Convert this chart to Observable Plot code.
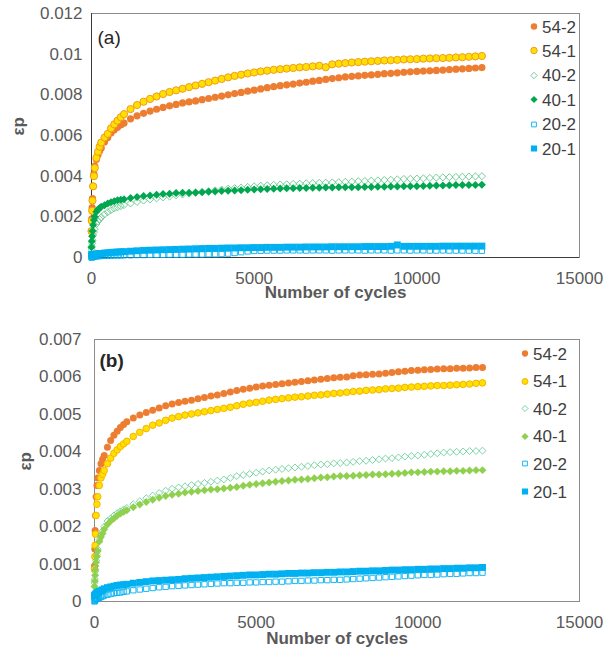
<!DOCTYPE html>
<html><head><meta charset="utf-8">
<script src="https://cdn.jsdelivr.net/npm/d3@7"></script>
<script src="https://cdn.jsdelivr.net/npm/@observablehq/plot@0.6"></script>
<style>
body{margin:0;background:#fff;font-family:"Liberation Sans",Arial,sans-serif;}
.panel{position:relative;width:605px;overflow:hidden;}
.panel > svg{display:block;}
.legend{position:absolute;left:0;top:0;font-size:17px;color:#404040;}
.legend .item{position:absolute;display:flex;align-items:center;white-space:nowrap;transform:translateY(-50%);line-height:1;}
.legend .item svg{margin-right:2px;}
</style></head><body>
<div id="pa" class="panel" style="height:310px"></div>
<div id="pb" class="panel" style="height:347px"></div>
<script>
// ---------- data ----------
const cycles = [0,10,20,30,50,75,100,150,200,250,300,400,500,600,700,800,900,1000,
  1200,1400,1600,1800,2000, 2200,2400,2600,2800,3000, 3200,3400,3600,3800,4000, 4200,4400,4600,4800,5000, 5200,5400,5600,5800,6000,
  6200,6400,6600,6800,7000, 7200,7400,7600,7800,8000, 8200,8400,8600,8800,9000, 9200,9400,9600,9800,10000, 10200,10400,10600,10800,11000, 11200,11400,11600,11800,12000];
const seriesNames = ["54-2","54-1","40-2","40-1","20-2","20-1"];

// panel (a)
const a54_2 = [0.0013,0.0019,0.00245,0.0029,0.0035,0.0041,0.0045,0.00482,0.00505,0.00524,0.00538,0.00568,0.0059,0.00612,0.00628,0.0064,0.00652,0.00661,
  0.00682,0.00697,0.00709,0.0072,0.00729, 0.00738,0.00746,0.00753,0.0076,0.00765, 0.0077,0.00776,0.00782,0.00788,0.00794, 0.008,0.00806,0.00812,0.00818,0.00823, 0.00829,0.00835,0.0084,0.00845,0.00849,
  0.00853,0.00858,0.00862,0.00867,0.00871, 0.00876,0.0088,0.00884,0.00888,0.00891, 0.00893,0.00896,0.00898,0.00901,0.00904, 0.00906,0.00908,0.00911,0.00913,0.00915, 0.00917,0.00918,0.0092,0.00922,0.00924, 0.00926,0.00928,0.0093,0.00932,0.00934];
const a54_1 = [0.0013,0.0018,0.0023,0.0028,0.0035,0.004,0.0044,0.0049,0.0052,0.00545,0.00565,0.0059,0.00608,0.00635,0.00655,0.00673,0.0069,0.00705,
  0.0073,0.0075,0.00766,0.0078,0.00792, 0.00804,0.00814,0.00822,0.0083,0.00838, 0.00846,0.00854,0.00862,0.0087,0.00878, 0.00886,0.00893,0.00899,0.00905,0.0091, 0.00915,0.00919,0.00923,0.00926,0.00929,
  0.00932,0.00935,0.00937,0.0094,0.00943, 0.00936,0.0095,0.00953,0.00956,0.00959, 0.00961,0.00963,0.00965,0.00967,0.00969, 0.0097,0.00972,0.00974,0.00975,0.00976, 0.00978,0.00979,0.0098,0.00981,0.00982, 0.00984,0.00985,0.00987,0.00989,0.00991];
const a40_2 = [0.0004,0.00055,0.0007,0.00085,0.0011,0.00125,0.0014,0.00165,0.00178,0.00188,0.00198,0.00212,0.00223,0.00233,0.00241,0.00247,0.00253,0.00258,
  0.00266,0.00273,0.0028,0.00286,0.00291, 0.00296,0.003,0.00306,0.0031,0.00314, 0.00318,0.00322,0.00326,0.0033,0.00334, 0.00338,0.00341,0.00344,0.00347,0.0035, 0.00353,0.00355,0.00357,0.00359,0.0036,
  0.00362,0.00363,0.00365,0.00366,0.00367, 0.00368,0.00369,0.0037,0.00372,0.00373, 0.00375,0.00376,0.00378,0.00379,0.00381, 0.00382,0.00384,0.00386,0.00387,0.00388, 0.00389,0.00391,0.00393,0.00394,0.00395, 0.00396,0.00397,0.00398,0.00399,0.004];
const a40_1 = [0.0005,0.0008,0.00105,0.0013,0.0016,0.00185,0.002,0.00225,0.00236,0.00244,0.0025,0.00257,0.00265,0.00272,0.00277,0.00281,0.00284,0.00287,
  0.00293,0.00297,0.00302,0.00305,0.00309, 0.00312,0.00314,0.00317,0.00318,0.00319, 0.0032,0.00321,0.00323,0.00325,0.00327, 0.00328,0.00329,0.00331,0.00333,0.00334, 0.00336,0.00337,0.00338,0.00339,0.0034,
  0.00341,0.00342,0.00342,0.00343,0.00343, 0.00344,0.00344,0.00345,0.00345,0.00346, 0.00346,0.00347,0.00347,0.00348,0.00348, 0.00349,0.00349,0.0035,0.00351,0.00351, 0.00352,0.00353,0.00354,0.00354,0.00355, 0.00356,0.00356,0.00357,0.00357,0.00358];
const a20_2 = [0,0.00001,0.00002,0.00003,0.00004,0.00005,0.00005,0.00006,0.00007,0.00007,0.00008,0.00008,0.00009,0.00009,0.0001,0.0001,0.0001,0.00011,
  0.00011,0.00012,0.00012,0.00013,0.00013, 0.00013,0.00014,0.00014,0.00014,0.00015, 0.00015,0.00015,0.00016,0.00016,0.00017, 0.00019,0.00022,0.00026,0.0003,0.00032, 0.00033,0.00034,0.00034,0.00034,0.00035,
  0.00035,0.00035,0.00034,0.00035,0.00035, 0.00035,0.00034,0.00035,0.00035,0.00035, 0.00035,0.00034,0.00035,0.00035,0.00035, 0.00034,0.00035,0.00035,0.00034,0.00035, 0.00035,0.00034,0.00034,0.00035,0.00034, 0.00034,0.00034,0.00034,0.00033,0.00033];
const a20_1 = [0.00013,0.00013,0.00014,0.00014,0.00015,0.00015,0.00016,0.00017,0.00018,0.00019,0.0002,0.00022,0.00023,0.00025,0.00026,0.00027,0.00028,0.00029,
  0.00031,0.00033,0.00035,0.00036,0.00037, 0.00038,0.00039,0.0004,0.00041,0.00042, 0.00043,0.00044,0.00045,0.00045,0.00046, 0.00047,0.00047,0.00048,0.00048,0.00049, 0.00049,0.0005,0.0005,0.0005,0.00051,
  0.00051,0.00051,0.00052,0.00052,0.00052, 0.00052,0.00053,0.00053,0.00053,0.00053, 0.00053,0.00054,0.00054,0.00054,0.00054, 0.00055,0.00062,0.00055,0.00055,0.00055, 0.00055,0.00055,0.00055,0.00056,0.00056, 0.00056,0.00056,0.00056,0.00056,0.00056];

// panel (b)
const b54_2 = [0.00095,0.0014,0.0019,0.0023,0.0028,0.0031,0.0033,0.0035,0.00368,0.0038,0.0039,0.00412,0.0043,0.00444,0.00455,0.00465,0.00473,0.0048,
  0.0049,0.00498,0.00505,0.00511,0.00517, 0.00523,0.00528,0.00532,0.00535,0.00538, 0.00542,0.00545,0.00549,0.00552,0.00556, 0.0056,0.00564,0.00567,0.0057,0.00573, 0.00576,0.00578,0.0058,0.00582,0.00584,
  0.00586,0.00588,0.0059,0.00592,0.00594, 0.00596,0.00598,0.00599,0.006,0.00603, 0.00605,0.00606,0.00607,0.00608,0.0061, 0.00612,0.00614,0.00615,0.00617,0.00618, 0.00619,0.0062,0.00621,0.00622,0.00622, 0.00623,0.00623,0.00624,0.00625,0.00625];
const b54_1 = [0.00087,0.0012,0.0015,0.0018,0.0023,0.0026,0.0028,0.0031,0.0033,0.0034,0.0035,0.00368,0.00383,0.00396,0.00405,0.00414,0.00421,0.00428,
  0.00441,0.00452,0.00462,0.00471,0.00477, 0.00484,0.0049,0.00494,0.00498,0.00501, 0.00504,0.00507,0.0051,0.00513,0.00516, 0.00519,0.00523,0.00527,0.0053,0.00532, 0.00535,0.00538,0.0054,0.00542,0.00544,
  0.00546,0.00547,0.00549,0.00551,0.00552, 0.00554,0.00556,0.00557,0.00559,0.00561, 0.00562,0.00564,0.00565,0.00566,0.00568, 0.00569,0.0057,0.00572,0.00573,0.00574, 0.00575,0.00576,0.00577,0.00577,0.00578, 0.00579,0.0058,0.00581,0.00583,0.00584];
const b40_2 = [0.0005,0.0006,0.0008,0.00095,0.0011,0.00125,0.0014,0.00165,0.00178,0.00188,0.002,0.00215,0.00222,0.0023,0.00236,0.00241,0.00246,0.0025,
  0.0026,0.00268,0.00276,0.00283,0.0029, 0.00296,0.00301,0.00305,0.00308,0.00311, 0.00314,0.00317,0.0032,0.00323,0.00326, 0.0033,0.00335,0.00338,0.00341,0.00344, 0.00347,0.0035,0.00352,0.00354,0.00356,
  0.00358,0.0036,0.00362,0.00364,0.00366, 0.00367,0.00369,0.0037,0.00371,0.00373, 0.00375,0.00376,0.00378,0.0038,0.00382, 0.00383,0.00385,0.00387,0.00389,0.0039, 0.00392,0.00394,0.00396,0.00398,0.00399, 0.004,0.00401,0.00402,0.00402,0.00403];
const b40_1 = [0.0004,0.00055,0.0007,0.00085,0.00105,0.0012,0.00135,0.0016,0.00172,0.00182,0.00193,0.00206,0.00215,0.00222,0.00229,0.00235,0.0024,0.00244,
  0.00252,0.00259,0.00266,0.00272,0.00277, 0.00282,0.00285,0.00288,0.00291,0.00293, 0.00295,0.00297,0.00299,0.003,0.00302, 0.00304,0.00306,0.00309,0.00312,0.00314, 0.00316,0.00318,0.0032,0.00322,0.00323,
  0.00325,0.00326,0.00327,0.00329,0.00331, 0.00332,0.00334,0.00335,0.00335,0.00336, 0.00337,0.00338,0.00339,0.00339,0.0034, 0.00341,0.00342,0.00343,0.00345,0.00345, 0.00346,0.00347,0.00347,0.00348,0.00348, 0.00349,0.00349,0.0035,0.00351,0.00351];
const b20_2 = [0,0.00002,0.00004,0.00005,0.00007,0.00008,0.00009,0.0001,0.00012,0.00014,0.00016,0.00018,0.0002,0.00022,0.00023,0.00024,0.00026,0.00027,
  0.0003,0.00032,0.00034,0.00036,0.00038, 0.00039,0.00041,0.00042,0.00043,0.00044, 0.00045,0.00046,0.00047,0.00048,0.00049, 0.00049,0.0005,0.0005,0.00051,0.00051, 0.00052,0.00052,0.00053,0.00053,0.00054,
  0.00055,0.00055,0.00056,0.00056,0.00057, 0.00057,0.00058,0.00058,0.00059,0.0006, 0.00061,0.00062,0.00063,0.00064,0.00065, 0.00066,0.00067,0.00068,0.00069,0.0007, 0.00071,0.00071,0.00072,0.00073,0.00074, 0.00074,0.00075,0.00076,0.00076,0.00077];
const b20_1 = [0.00015,0.00016,0.00018,0.00019,0.00021,0.00023,0.00025,0.00027,0.00029,0.00031,0.00034,0.00037,0.00039,0.00041,0.00043,0.00044,0.00045,0.00046,
  0.00049,0.00051,0.00053,0.00055,0.00056, 0.00057,0.00058,0.00059,0.00061,0.00062, 0.00063,0.00064,0.00065,0.00066,0.00067, 0.00068,0.00069,0.0007,0.00071,0.00071, 0.00072,0.00073,0.00073,0.00074,0.00075,
  0.00075,0.00076,0.00076,0.00077,0.00077, 0.00078,0.00078,0.00079,0.00079,0.0008, 0.00081,0.00081,0.00082,0.00082,0.00083, 0.00084,0.00084,0.00085,0.00085,0.00086, 0.00086,0.00087,0.00087,0.00088,0.00088, 0.00089,0.00089,0.0009,0.0009,0.00091];

const xTicks = [0, 5000, 10000, 15000];
const yTicksA = [0, 0.002, 0.004, 0.006, 0.008, 0.01, 0.012];
const yTicksB = [0, 0.001, 0.002, 0.003, 0.004, 0.005, 0.006, 0.007];

// ---------- styles ----------
const stylesA = {
  "54-2": {symbol: "circle", fill: "#ED7D31", stroke: "none", r: 3.6, sw: 0},
  "54-1": {symbol: "circle", fill: "#FFE000", stroke: "#F39A1E", r: 3.6, sw: 1},
  "40-2": {symbol: "diamond2", fill: "none", stroke: "#52C07F", r: 3.2, sw: 0.8},
  "40-1": {symbol: "diamond2", fill: "#00A650", stroke: "none", r: 3.6, sw: 0},
  "20-2": {symbol: "square", fill: "none", stroke: "#00B0F0", r: 3.0, sw: 0.9},
  "20-1": {symbol: "square", fill: "#00B0F0", stroke: "none", r: 3.9, sw: 0}
};
const stylesB = {
  "54-2": {symbol: "circle", fill: "#ED7D31", stroke: "none", r: 3.5, sw: 0},
  "54-1": {symbol: "circle", fill: "#FFE000", stroke: "#F7B500", r: 3.3, sw: 1},
  "40-2": {symbol: "diamond2", fill: "none", stroke: "#5CC98F", r: 3.1, sw: 0.8},
  "40-1": {symbol: "diamond2", fill: "#8FD14F", stroke: "none", r: 3.6, sw: 0},
  "20-2": {symbol: "square", fill: "none", stroke: "#00B0F0", r: 3.0, sw: 0.9},
  "20-1": {symbol: "square", fill: "#00B0F0", stroke: "none", r: 3.9, sw: 0}
};

const valsA = {"54-2": a54_2, "54-1": a54_1, "40-2": a40_2, "40-1": a40_1, "20-2": a20_2, "20-1": a20_1};
const valsB = {"54-2": b54_2, "54-1": b54_1, "40-2": b40_2, "40-1": b40_1, "20-2": b20_2, "20-1": b20_1};

function rowsOf(vals, name) {
  return cycles.map((c, i) => ({c, v: vals[i], s: name})).filter(d => d.v != null);
}

const fmtY = d => String(+d.toFixed(4));
const fmtX = d => String(d);

function panel(opts) {
  const {vals, styles, yDomain, yTicks, height, mTop, mBottom, mLeft, mRight, tag, tagBold, tagDx, tagDy, epsDx, titleDy, yPad, axisDark} = opts;
  const marks = [];
  marks.push(Plot.frame({stroke: "#8c8c8c"}));
  if (axisDark) {
    marks.push(Plot.ruleX([0], {stroke: "#3a3a3a"}));
    marks.push(Plot.ruleY([0], {stroke: "#3a3a3a"}));
  }
  for (const name of seriesNames) {
    const st = styles[name];
    marks.push(Plot.dot(rowsOf(vals[name], name), {
      x: "c", y: "v", symbol: st.symbol, r: st.r,
      fill: st.fill, stroke: st.stroke, strokeWidth: st.sw
    }));
  }
  marks.push(Plot.text([tag], {frameAnchor: "top-left", dx: tagDx, dy: tagDy, textAnchor: "start", fontSize: 19, fill: "#262626", fontWeight: tagBold ? "bold" : "normal"}));
  marks.push(Plot.text(["Number of cycles"], {frameAnchor: "bottom", dy: titleDy, fontSize: 17, fontWeight: "bold", fill: "#595959"}));
  marks.push(Plot.text(["εp"], {frameAnchor: "left", dx: epsDx, rotate: -90, fontSize: 17, fontWeight: "bold", fill: "#595959"}));
  return Plot.plot({
    width: 605, height,
    marginTop: mTop, marginBottom: mBottom, marginLeft: mLeft, marginRight: mRight,
    style: {fontFamily: "'Liberation Sans', Arial, sans-serif", fontSize: "17px", color: "#595959", background: "white", overflow: "visible"},
    x: {domain: [0, 15000], ticks: xTicks, tickSize: 0, tickPadding: 14, tickFormat: fmtX, label: null},
    y: {domain: yDomain, ticks: yTicks, tickSize: 0, tickPadding: yPad, tickFormat: fmtY, label: null},
    marks
  });
}

function legend(container, styles, left, top0, step) {
  const lg = document.createElement("div");
  lg.className = "legend";
  seriesNames.forEach((name, i) => {
    const st = styles[name];
    const type = st.symbol === "circle" ? d3.symbolCircle : st.symbol === "square" ? d3.symbolSquare : d3.symbolDiamond2;
    const path = d3.symbol(type, st.r * st.r * Math.PI * 0.8)();
    const item = document.createElement("div");
    item.className = "item";
    item.style.left = left + "px";
    item.style.top = (top0 + i * step) + "px";
    item.innerHTML = `<svg width="12" height="12"><path transform="translate(6,6)" d="${path}" fill="${st.fill}" stroke="${st.stroke}" stroke-width="${st.sw}"/></svg><span>${name}</span>`;
    lg.appendChild(item);
  });
  container.appendChild(lg);
}

const pa = document.getElementById("pa");
pa.appendChild(panel({vals: valsA, styles: stylesA, yDomain: [0, 0.012], yTicks: yTicksA, height: 310,
  mTop: 13, mBottom: 53, mLeft: 91, mRight: 26, tag: "(a)", tagBold: false, tagDx: 6, tagDy: 17,
  epsDx: -73, titleDy: 40, yPad: 9, axisDark: true}));
legend(pa, stylesA, 528, 26.5, 24.4);

const pb = document.getElementById("pb");
pb.appendChild(panel({vals: valsB, styles: stylesB, yDomain: [0, 0.007], yTicks: yTicksB, height: 347,
  mTop: 29, mBottom: 56, mLeft: 94, mRight: 26, tag: "(b)", tagBold: true, tagDx: 5, tagDy: 14,
  epsDx: -69, titleDy: 42, yPad: 13, axisDark: false}));
legend(pb, stylesB, 519, 43.5, 27.6);
</script>
</body></html>
